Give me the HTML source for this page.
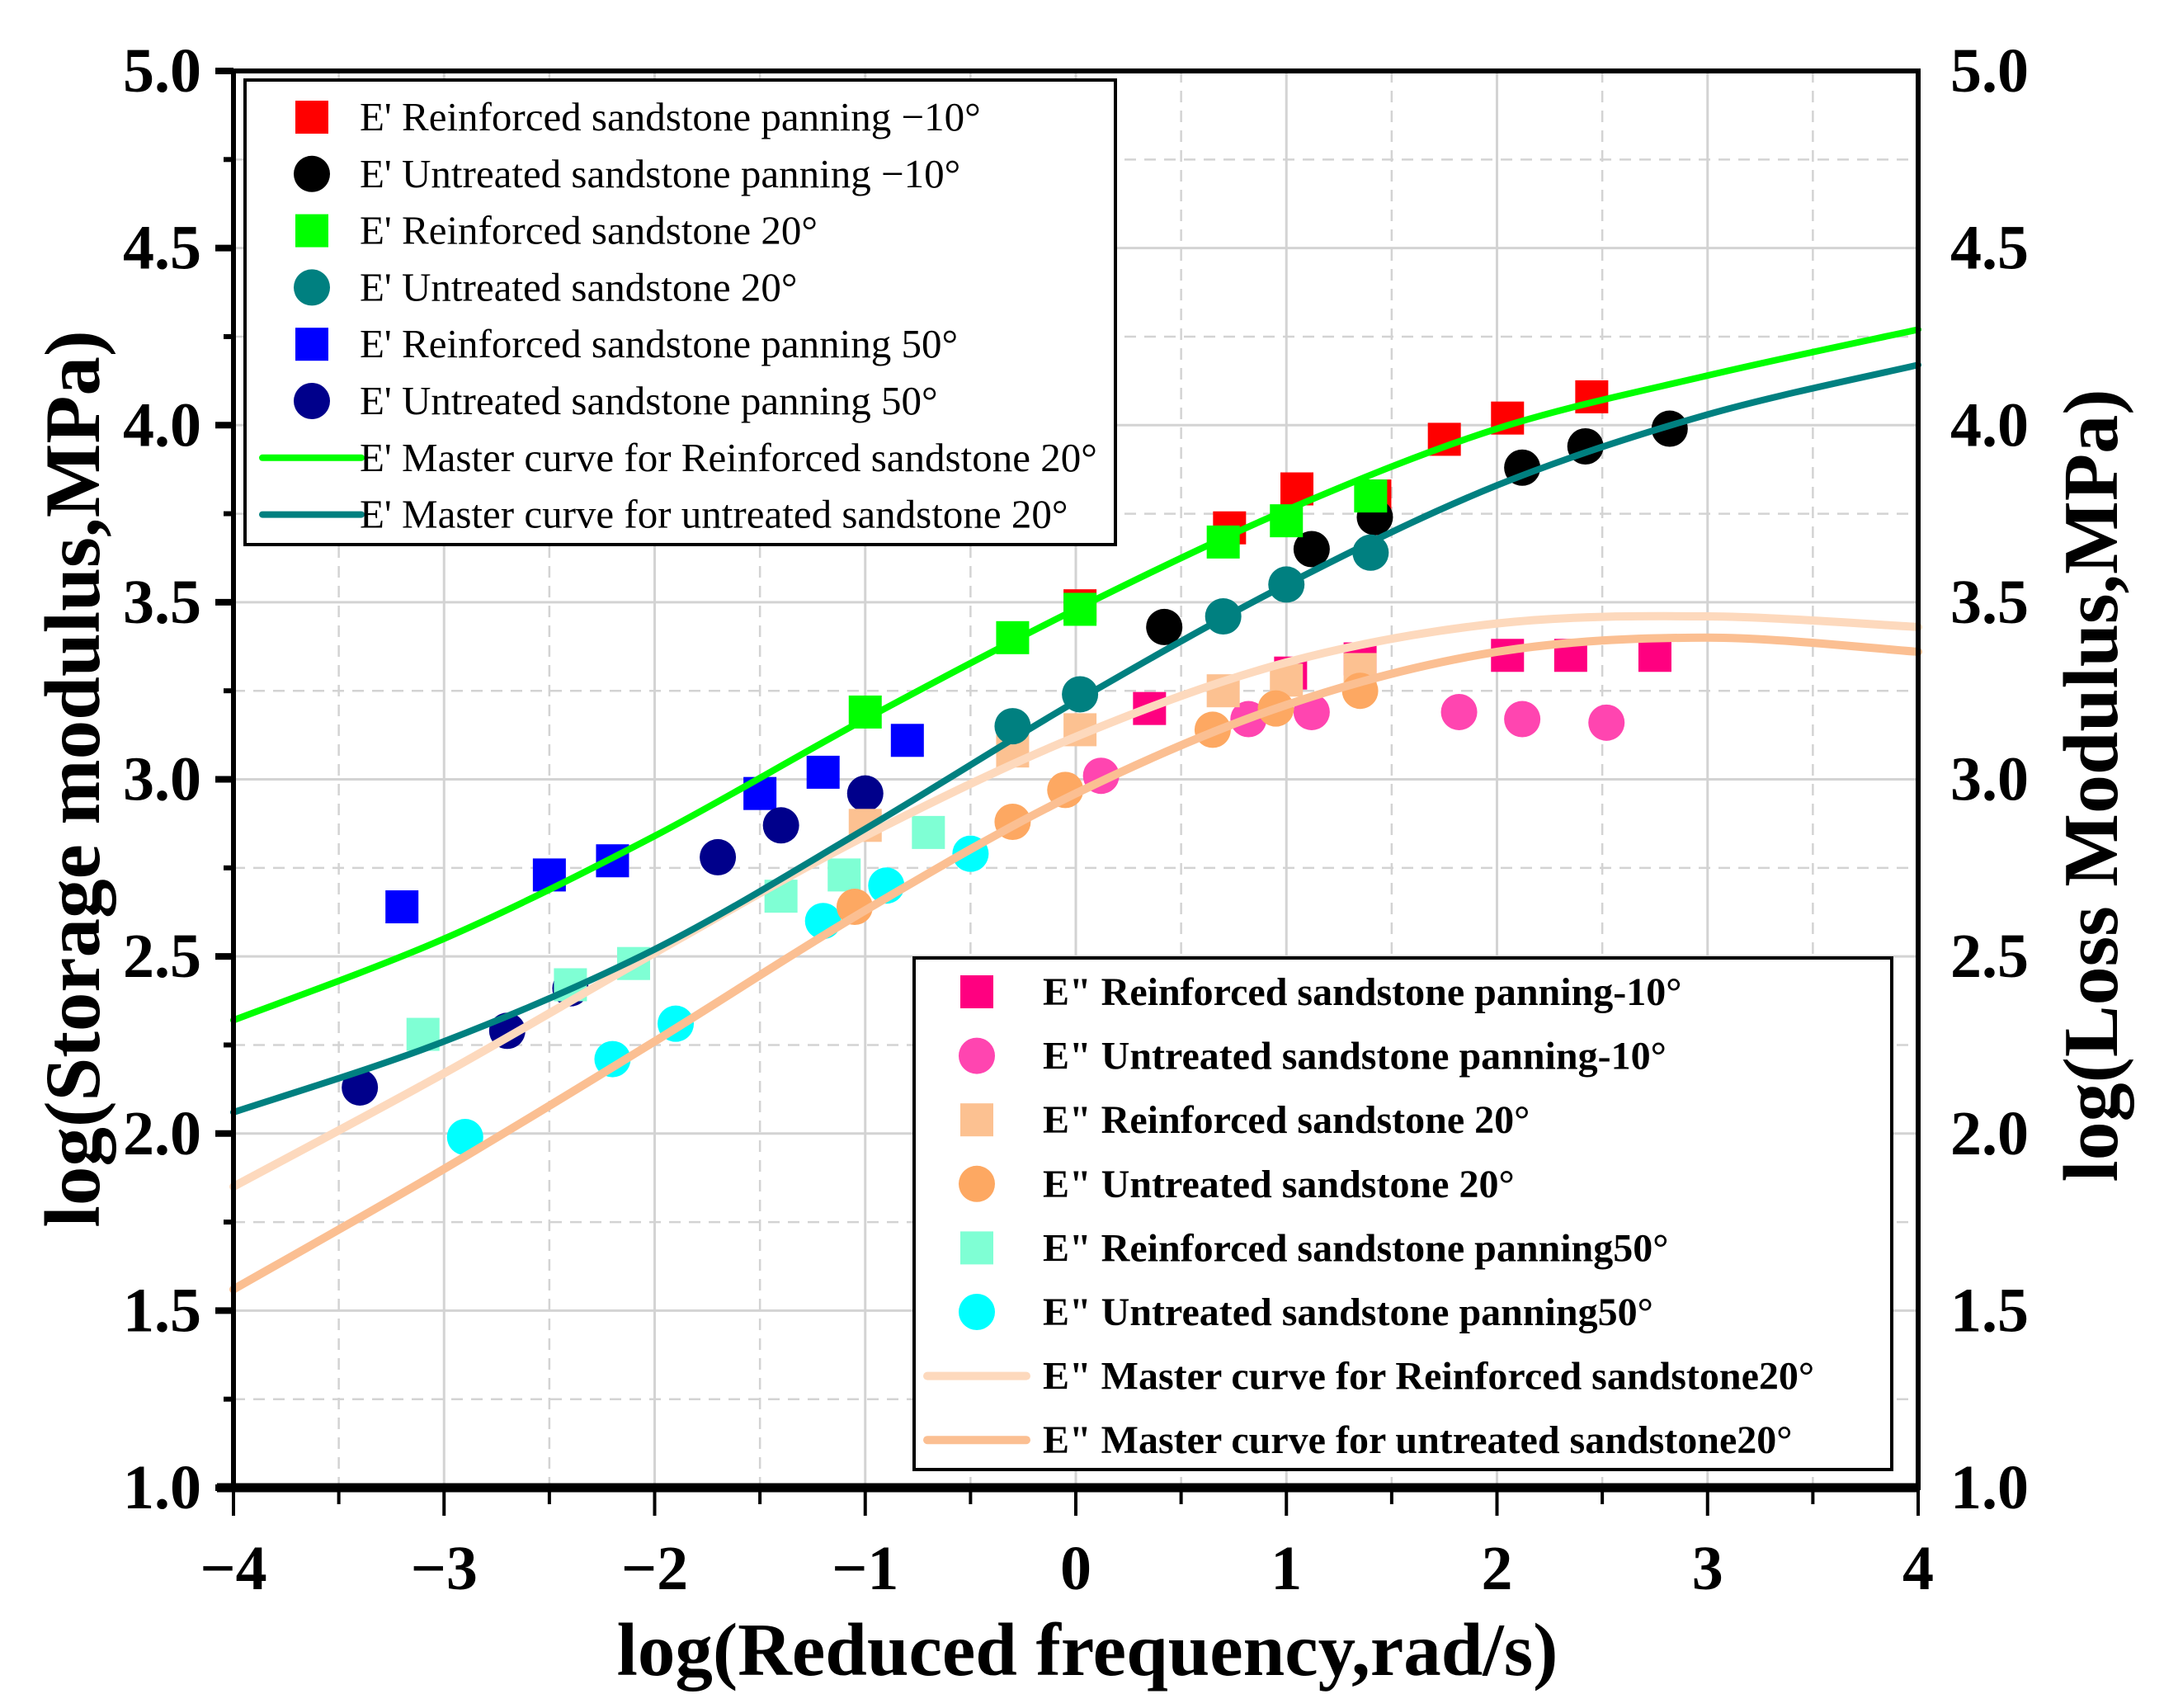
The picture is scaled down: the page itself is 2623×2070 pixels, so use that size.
<!DOCTYPE html>
<html><head><meta charset="utf-8"><style>
html,body{margin:0;padding:0;background:#fff}
svg{display:block}
text{font-family:"Liberation Serif",serif;fill:#000}
</style></head><body>
<svg id="chart" width="2623" height="2070" viewBox="0 0 2623 2070" xmlns="http://www.w3.org/2000/svg">
<g id="grid"></g>
<g id="plot"></g>
<g id="axes"></g>
<g id="leg"></g>
</svg>
<script>
// ---- data ----
const xTicks=[-4,-3,-2,-1,0,1,2,3,4];
const yTicks=[1.0,1.5,2.0,2.5,3.0,3.5,4.0,4.5,5.0];
const curveX=[-4,-3,-2,-1,0,1,2,3,4];
const greenCurve=[2.32,2.55,2.84,3.17,3.48,3.76,3.99,4.14,4.27];
const tealCurve=[2.06,2.26,2.52,2.86,3.22,3.55,3.83,4.03,4.17];
const peachCurve=[1.85,2.17,2.51,2.84,3.12,3.33,3.44,3.46,3.43];
const orangeCurve=[1.56,1.90,2.26,2.63,2.96,3.21,3.36,3.40,3.36];
const redX=[0.02,0.73,1.05,1.42,1.75,2.05,2.45], redY=[3.49,3.71,3.82,3.80,3.96,4.02,4.08];
const blackX=[0.42,1.12,1.42,2.12,2.42,2.82], blackY=[3.43,3.65,3.74,3.88,3.94,3.99];
const greenX=[-1.0,-0.3,0.02,0.7,1.0,1.4], greenY=[3.19,3.40,3.48,3.67,3.73,3.80];
const tealX=[-0.3,0.02,0.7,1.0,1.4], tealY=[3.15,3.24,3.46,3.55,3.64];
const blueX=[-3.2,-2.5,-2.2,-1.5,-1.2,-0.8], blueY=[2.64,2.73,2.77,2.96,3.02,3.11];
const navyX=[-3.4,-2.7,-2.4,-1.7,-1.4,-1.0], navyY=[2.13,2.29,2.41,2.78,2.87,2.96];
const pinkSqX=[0.35,1.02,1.35,2.05,2.35,2.75], pinkSqY=[3.20,3.30,3.34,3.35,3.35,3.35];
const pinkCX=[0.12,0.82,1.12,1.82,2.12,2.52], pinkCY=[3.01,3.17,3.19,3.19,3.17,3.16];
const lorSqX=[-1.0,-0.3,0.02,0.7,1.0,1.35], lorSqY=[2.87,3.08,3.14,3.25,3.28,3.31];
const orCX=[-1.05,-0.3,-0.05,0.65,0.95,1.35], orCY=[2.64,2.88,2.97,3.14,3.20,3.25];
const aquaX=[-3.1,-2.4,-2.1,-1.4,-1.1,-0.7], aquaY=[2.28,2.42,2.48,2.67,2.73,2.85];
const cyanX=[-2.9,-2.2,-1.9,-1.2,-0.9,-0.5], cyanY=[1.99,2.21,2.31,2.60,2.70,2.79];

const L=283,R=2325,T=86,B=1803;
const X=v=>L+(v+4)/8*(R-L);
const Y=v=>B-(v-1)/4*(B-T);
const NS='http://www.w3.org/2000/svg';
function mk(tag,attrs,parent){const e=document.createElementNS(NS,tag);for(const k in attrs)e.setAttribute(k,attrs[k]);parent.appendChild(e);return e;}
const grid=document.getElementById('grid'),plot=document.getElementById('plot'),axes=document.getElementById('axes'),leg=document.getElementById('leg');

for(let v=-4;v<=4;v+=0.5){const solid=Number.isInteger(v);
 const l=mk('line',{x1:X(v),x2:X(v),y1:T,y2:B,stroke:'#d3d3d3','stroke-width':solid?3:2.5,'stroke-dasharray':solid?'':'14,10'},grid);
 
 }
for(let v=1;v<=5;v+=0.25){const solid=Math.abs(v*2-Math.round(v*2))<1e-6;
 const l=mk('line',{x1:L,x2:R,y1:Y(v),y2:Y(v),stroke:'#d3d3d3','stroke-width':solid?3:2.5,'stroke-dasharray':solid?'':'14,10'},grid);
 
 }

function smooth(xs,ys){const p=xs.map((x,i)=>[X(x),Y(ys[i])]);let d='M'+p[0][0]+','+p[0][1];
 for(let i=0;i<p.length-1;i++){const p0=p[Math.max(0,i-1)],p1=p[i],p2=p[i+1],p3=p[Math.min(p.length-1,i+2)];
 d+=' C'+(p1[0]+(p2[0]-p0[0])/6)+','+(p1[1]+(p2[1]-p0[1])/6)+' '+(p2[0]-(p3[0]-p1[0])/6)+','+(p2[1]-(p3[1]-p1[1])/6)+' '+p2[0]+','+p2[1];}
 return d;}
function curve(ys,col,w,name){const c=mk('path',{d:smooth(curveX,ys),fill:'none',stroke:col,'stroke-width':w,'stroke-linecap':'round'},plot);
 
 }
function squares(xs,ys,col,name){xs.forEach((x,i)=>{const s=mk('rect',{x:X(x)-20,y:Y(ys[i])-20,width:40,height:40,fill:col},plot);
 
 });}
function circles(xs,ys,col,name){xs.forEach((x,i)=>{const s=mk('circle',{cx:X(x),cy:Y(ys[i]),r:22,fill:col},plot);
 
 });}

squares(blueX,blueY,'#0000ff','point-reinforced-50');
circles(navyX,navyY,'#00008b','point-untreated-50');
squares(aquaX,aquaY,'#7fffd4','point-loss-reinforced-50');
circles(cyanX,cyanY,'#00ffff','point-loss-untreated-50');
squares(pinkSqX,pinkSqY,'#ff0080','point-loss-reinforced-m10');
circles(pinkCX,pinkCY,'#ff45b0','point-loss-untreated-m10');
squares(lorSqX,lorSqY,'#fcc191','point-loss-reinforced-20');
circles(orCX,orCY,'#fda862','point-loss-untreated-20');
squares(redX,redY,'#ff0000','point-reinforced-m10');
circles(blackX,blackY,'#000000','point-untreated-m10');
curve(peachCurve,'#fdd9bd',10,'loss-master-curve-reinforced');
curve(orangeCurve,'#fbbf92',10,'loss-master-curve-untreated');
squares(greenX,greenY,'#00ff00','point-reinforced-20');
circles(tealX,tealY,'#008080','point-untreated-20');
curve(greenCurve,'#00ff00',8,'storage-master-curve-reinforced');
curve(tealCurve,'#008080',8,'storage-master-curve-untreated');

mk('rect',{x:L,y:T,width:R-L,height:B-T,fill:'none',stroke:'#000','stroke-width':6},axes);
mk('line',{x1:L-20,x2:R,y1:B,y2:B,stroke:'#000','stroke-width':11},axes);
for(let v=-4;v<=4;v+=0.5){const maj=Number.isInteger(v);
 const t=mk('line',{x1:X(v),x2:X(v),y1:B,y2:B+(maj?34:20),stroke:'#000','stroke-width':4},axes);
 
 }
for(let v=1;v<=5;v+=0.25){const maj=Math.abs(v*2-Math.round(v*2))<1e-6;
 const t=mk('line',{x1:L-(maj?22:12),x2:L,y1:Y(v),y2:Y(v),stroke:'#000','stroke-width':maj?8:6},axes);
 
 }
xTicks.forEach(v=>{const t=mk('text',{x:X(v),y:1926,'text-anchor':'middle','font-size':76,'font-weight':'bold'},axes);t.textContent=v<0?'\u2212'+(-v):String(v);
 
 });
yTicks.forEach(v=>{const t=mk('text',{x:244,y:Y(v)+25,'text-anchor':'end','font-size':76,'font-weight':'bold'},axes);t.textContent=v.toFixed(1);
 
 
 const t2=mk('text',{x:2364,y:Y(v)+25,'text-anchor':'start','font-size':76,'font-weight':'bold'},axes);t2.textContent=v.toFixed(1);
 
 });
let at=mk('text',{x:1318,y:2030,'text-anchor':'middle','font-size':91,'font-weight':'bold'},axes);at.textContent='log(Reduced frequency,rad/s)';

at=mk('text',{x:0,y:0,'text-anchor':'middle','font-size':95,'font-weight':'bold',transform:'translate(120,944) rotate(-90)'},axes);at.textContent='log(Storage modulus,MPa)';

at=mk('text',{x:0,y:0,'text-anchor':'middle','font-size':94,'font-weight':'bold',transform:'translate(2566,952) rotate(-90)'},axes);at.textContent='log(Loss Modulus,MPa)';


const leg1Labels=["E' Reinforced sandstone panning \u221210\u00b0","E' Untreated sandstone panning \u221210\u00b0","E' Reinforced sandstone 20\u00b0","E' Untreated sandstone 20\u00b0","E' Reinforced sandstone panning 50\u00b0","E' Untreated sandstone panning 50\u00b0","E' Master curve for Reinforced sandstone 20\u00b0","E' Master curve for untreated sandstone 20\u00b0"];
const leg1Types=['s','c','s','c','s','c','l','l'];
const leg1Cols=['#ff0000','#000000','#00ff00','#008080','#0000ff','#00008b','#00ff00','#008080'];
const leg2Labels=['E" Reinforced sandstone panning-10\u00b0','E" Untreated sandstone panning-10\u00b0','E" Reinforced sandstone 20\u00b0','E" Untreated sandstone 20\u00b0','E" Reinforced sandstone panning50\u00b0','E" Untreated sandstone panning50\u00b0','E" Master curve for Reinforced sandstone20\u00b0','E" Master curve for untreated sandstone20\u00b0'];
const leg2Cols=['#ff0080','#ff45b0','#fcc191','#fda862','#7fffd4','#00ffff','#fdd9bd','#fbbf92'];
function legend(x,y,w,h,labels,types,cols,mx,tx,y0,dy,fs,fw,lw,name){
 const g=mk('g',{},leg);
 mk('rect',{x:x,y:y,width:w,height:h,fill:'#fff',stroke:'#000','stroke-width':4},g);
 labels.forEach((lab,i)=>{const cy=y0+i*dy;const e=mk('g',{},g);
  
  
  if(types[i]==='s')mk('rect',{x:mx-20,y:cy-20,width:40,height:40,fill:cols[i]},e);
  else if(types[i]==='c')mk('circle',{cx:mx,cy:cy,r:22,fill:cols[i]},e);
  else mk('line',{x1:mx-60,x2:mx+60,y1:cy,y2:cy,stroke:cols[i],'stroke-width':lw,'stroke-linecap':'round'},e);
  const t=mk('text',{x:tx,y:cy+16,'font-size':fs,'font-weight':fw},e);t.textContent=lab;});}
legend(297,97,1055,563,leg1Labels,leg1Types,leg1Cols,378,436,142,68.8,49,'normal',8,'legend-storage');
legend(1108,1161,1185,620,leg2Labels,['s','c','s','c','s','c','l','l'],leg2Cols,1184,1264,1202,77.6,48,'bold',10,'legend-loss');
</script>
</body></html>
